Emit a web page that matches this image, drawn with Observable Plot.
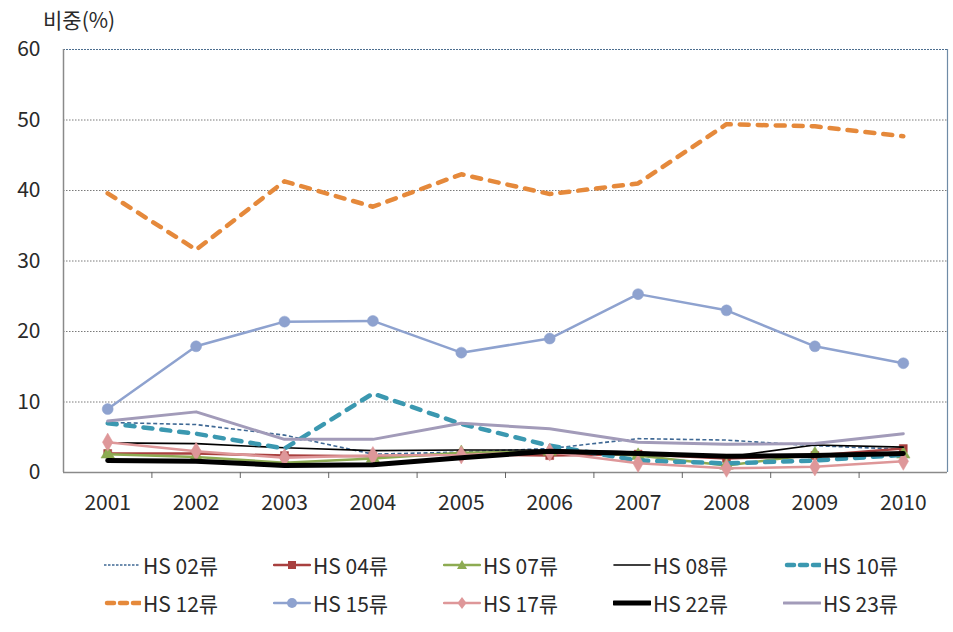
<!DOCTYPE html>
<html>
<head>
<meta charset="utf-8">
<script src="https://cdn.jsdelivr.net/npm/d3@7"></script>
<script src="https://cdn.jsdelivr.net/npm/@observablehq/plot@0.6"></script>
<style>
  body { margin: 0; background: #fff; }
  #wrap { position: relative; width: 953px; height: 632px; font-family: 'Noto Sans CJK KR', 'Noto Sans', sans-serif; color: #2a2a2a; }
  #ytitle { position: absolute; left: 43px; top: 4px; font-size: 21px; }
  #legend { position: absolute; left: 103px; top: 551px; width: 850px; display: grid; grid-template-columns: repeat(5, 170px); row-gap: 10px; }
  .item { display: flex; align-items: center; height: 28px; font-size: 21px; white-space: nowrap; }
  .item svg { margin-right: 2px; }
</style>
</head>
<body>
<div id="wrap">
  <div id="ytitle">비중(%)</div>
  <div id="chart"></div>
  <div id="legend"></div>
</div>
<script>
const years = [2001, 2002, 2003, 2004, 2005, 2006, 2007, 2008, 2009, 2010];
const yTicks = [0, 10, 20, 30, 40, 50, 60];
const seriesNames = ["HS 02류", "HS 04류", "HS 07류", "HS 08류", "HS 10류", "HS 12류", "HS 15류", "HS 17류", "HS 22류", "HS 23류"];

const hs02 = [7.1, 6.8, 5.3, 2.6, 2.9, 3.4, 4.8, 4.6, 3.8, 3.3];
const hs04 = [2.7, 2.7, 2.4, 2.3, 2.6, 2.4, 2.6, 2.0, 2.4, 3.4];
const hs07 = [2.6, 2.2, 1.4, 2.0, 2.8, 3.0, 2.4, 1.0, 2.6, 2.6];
const hs08 = [4.2, 4.1, 3.5, 3.1, 3.2, 3.2, 2.9, 2.2, 3.9, 3.6];
const hs10 = [7.0, 5.5, 3.4, 11.2, 6.9, 3.8, 1.7, 1.3, 1.7, 2.5];
const hs12 = [39.6, 31.6, 41.3, 37.7, 42.3, 39.5, 41.0, 49.4, 49.1, 47.7];
const hs15 = [9.0, 17.9, 21.4, 21.5, 17.0, 19.0, 25.3, 23.0, 17.9, 15.5];
const hs17 = [4.3, 3.0, 2.1, 2.4, 2.5, 2.9, 1.3, 0.6, 0.8, 1.6];
const hs22 = [1.7, 1.6, 1.0, 1.1, 2.1, 3.0, 2.7, 2.3, 2.4, 2.7];
const hs23 = [7.3, 8.6, 4.7, 4.7, 7.0, 6.2, 4.3, 4.0, 4.1, 5.5];

const values = [hs02, hs04, hs07, hs08, hs10, hs12, hs15, hs17, hs22, hs23];

const styles = {
  "HS 02류": {stroke: "#3f6894", width: 1.6, dash: "4,2.5", cap: "butt", symbol: null},
  "HS 04류": {stroke: "#a8403f", width: 2.5, dash: null, cap: "round", symbol: "square", r: 4.5},
  "HS 07류": {stroke: "#8dab52", width: 2.5, dash: null, cap: "round", symbol: "triangle", r: 5},
  "HS 08류": {stroke: "#000000", width: 1.6, dash: null, cap: "round", symbol: null},
  "HS 10류": {stroke: "#3b98b0", width: 4.5, dash: "9,9", cap: "round", symbol: null},
  "HS 12류": {stroke: "#e5893b", width: 4.5, dash: "9,9", cap: "round", symbol: null},
  "HS 15류": {stroke: "#8ea2cf", width: 2.5, dash: null, cap: "round", symbol: "circle", r: 5.5},
  "HS 17류": {stroke: "#de9799", width: 2.5, dash: null, cap: "round", symbol: "diamond", r: 5.5},
  "HS 22류": {stroke: "#000000", width: 5, dash: null, cap: "round", symbol: null},
  "HS 23류": {stroke: "#a29bb9", width: 3, dash: null, cap: "round", symbol: null}
};

const table = seriesNames.flatMap((s, i) => years.map((y, j) => ({series: s, year: y, value: values[i][j]})));
const boundaries = [years[0] - 0.5, ...years.map(y => y + 0.5)];
const gridVals = yTicks.filter(v => v > 0 && v < 60);

const seriesMarks = seriesNames.flatMap(s => {
  const st = styles[s];
  const data = table.filter(d => d.series === s);
  const m = [Plot.line(data, {x: "year", y: "value", stroke: st.stroke, strokeWidth: st.width,
    strokeDasharray: st.dash, strokeLinecap: st.cap, strokeLinejoin: "round"})];
  if (st.symbol) m.push(Plot.dot(data, {x: "year", y: "value", symbol: st.symbol, r: st.r, fill: st.stroke, stroke: st.stroke, strokeWidth: 0.5}));
  return m;
});

const chart = Plot.plot({
  width: 953,
  height: 530,
  marginTop: 49,
  marginBottom: 58,
  marginLeft: 63,
  marginRight: 6,
  style: {fontFamily: "'Noto Sans CJK KR', 'Noto Sans', sans-serif", color: "#2a2a2a", background: "#fff"},
  x: {type: "linear", domain: [years[0] - 0.5, years[years.length - 1] + 0.5]},
  y: {domain: [0, 60]},
  marks: [
    Plot.ruleY(gridVals, {stroke: "#7a7a7a", strokeDasharray: "1.5,1.5", strokeWidth: 1}),
    Plot.ruleY([60], {stroke: "#4d6e8f", strokeDasharray: "2,1", strokeWidth: 1.2}),
    Plot.ruleX([boundaries[boundaries.length - 1]], {stroke: "#6f8ba6", strokeWidth: 1.2}),
    Plot.ruleX([boundaries[0]], {stroke: "#8a8a8a", strokeWidth: 1.5}),
    Plot.ruleY([0], {stroke: "#8a8a8a", strokeWidth: 1.5}),
    Plot.axisX({ticks: boundaries.slice(1, -1), tickSize: 6, tickFormat: () => "", stroke: "#666", label: null}),
    Plot.axisX({ticks: years, tickSize: 0, tickPadding: 23, tickFormat: "d", fontSize: 21, label: null}),
    Plot.axisY({ticks: yTicks, tickSize: 0, tickPadding: 23, fontSize: 21, label: null}),
    ...seriesMarks
  ]
});
document.getElementById("chart").appendChild(chart);

// Legend
const legend = document.getElementById("legend");
const symPath = {
  square: "M-4,-4h8v8h-8z",
  triangle: "M0,-5L5,4L-5,4z",
  circle: "M5,0A5,5 0 1,1 -5,0A5,5 0 1,1 5,0z",
  diamond: "M0,-6L4.5,0L0,6L-4.5,0z"
};
seriesNames.forEach(s => {
  const st = styles[s];
  const item = document.createElement("div");
  item.className = "item";
  let svg = `<svg width="38" height="20">`;
  let dash = st.dash ? (st.width > 4 ? "7,6" : "2.5,1.5") : null;
  const x1 = st.width > 4 && st.dash ? 4 : 1;
  svg += `<line x1="${x1}" x2="37" y1="10" y2="10" stroke="${st.stroke}" stroke-width="${st.width}" ${dash ? `stroke-dasharray="${dash}"` : ""} stroke-linecap="${st.dash && st.width < 4 ? "butt" : "round"}"/>`;
  if (st.symbol) svg += `<path d="${symPath[st.symbol]}" transform="translate(19,10)" fill="${st.stroke}"/>`;
  svg += `</svg>`;
  item.innerHTML = svg + `<span>${s}</span>`;
  legend.appendChild(item);
});
</script>
</body>
</html>
